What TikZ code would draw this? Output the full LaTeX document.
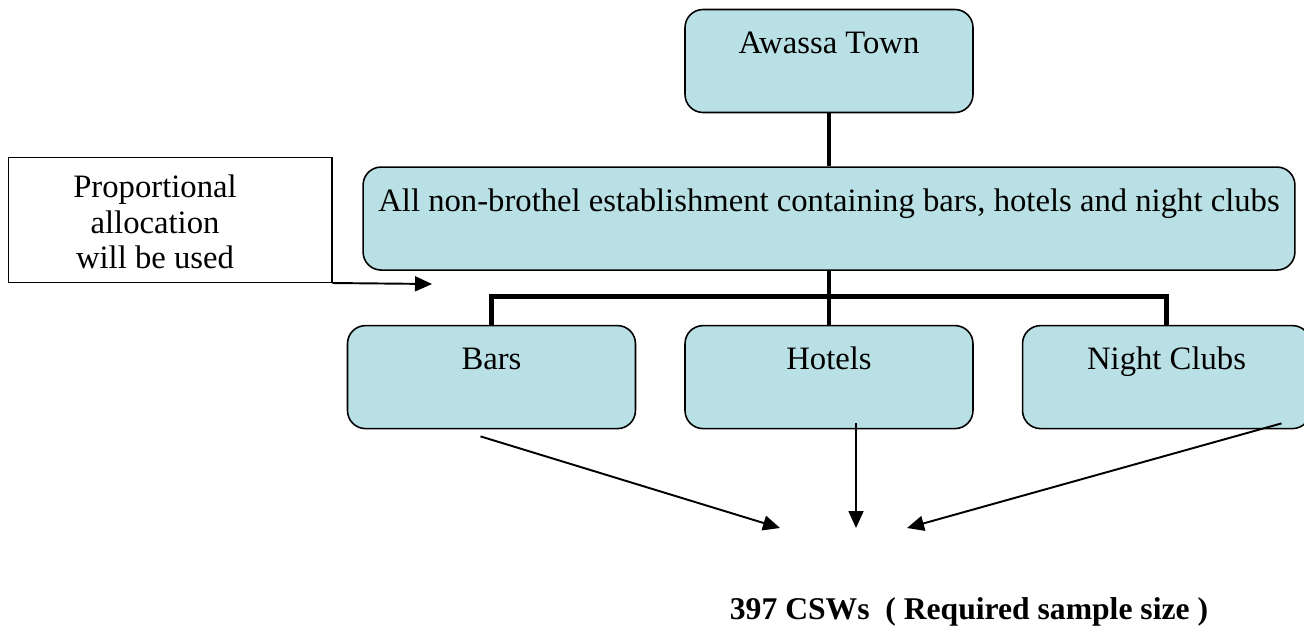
\documentclass[tikz,border=0pt]{standalone}
\usepackage{fontspec}
\setmainfont{Liberation Serif}
\usetikzlibrary{positioning, calc, arrows.meta}
\definecolor{boxblue}{RGB}{185,224,228}

\begin{document}
\begin{tikzpicture}[x=0.02cm, y=-0.02cm,
    stratum/.style={draw,
      rounded corners=0.36cm,
      fill=boxblue,
      line width=0.9pt,
      inner sep=0pt,
      minimum width=#1,
      text height=0.88cm,
      text depth=1.18cm,
      font=\fontsize{18.6}{21}\selectfont},
    stratum/.default=5.76cm,
    tree/.style={line width=2.8pt},
    pointer/.style={-{Triangle[length=0.34cm,width=0.3cm]}, line width=1.1pt}]
  \useasboundingbox (0,0) rectangle (1304,635);

  \node [stratum] (town) at (829,61) {Awassa Town};

  \node [stratum=18.64cm, 
    below=1.06cm of town] (establishments) {All non-brothel establishment containing bars, hotels and night clubs};

  \node [stratum, below=1.08cm of establishments] (hotels) {Hotels};
  \node [stratum, left=0.96cm of hotels] (bars) {Bars};
  \node [stratum, right=0.96cm of hotels] (nightclubs) {Night Clubs};

  \node [draw, line width=0.6pt, 
    minimum width=6.48cm, 
    inner sep=0pt, 
    text height=1.52cm, 
    text depth=0.98cm, 
    font=\fontsize{18.6}{20.4}\selectfont] (allocation) at (170,220) {%
    \begin{tabular}{@{}c@{}}Proportional\\allocation\\will be used\end{tabular}\hspace*{0.6cm}};

  \node [font=\fontsize{18}{21}\selectfont\bfseries] (samplesize) at (969,612) {397 CSWs\ \ ( Required sample size )};

  % TREE

  \draw[tree] (establishments.south) -- (hotels.north);
  \draw[tree] (town.south) -- (establishments.north);
  \draw[tree] (bars.north) -- ++(0,-28) -| (nightclubs.north);

  % ARROWS

  \coordinate (allocationtip) at (432,284);
  \coordinate (barstip) at (780,528);
  \coordinate (hotelstip) at (856,528);
  \coordinate (nightclubstip) at (907,528);

  \draw[pointer] (allocation.south east) -- (allocationtip);
  \draw[pointer] ($(bars.south)+(-11,7)$) -- (barstip);
  \draw[pointer] ($(hotels.south)+(27,-6)$) -- (hotelstip);
  \draw[pointer] ($(nightclubs.south)+(115,-6)$) -- (nightclubstip);

\end{tikzpicture}
\end{document}
